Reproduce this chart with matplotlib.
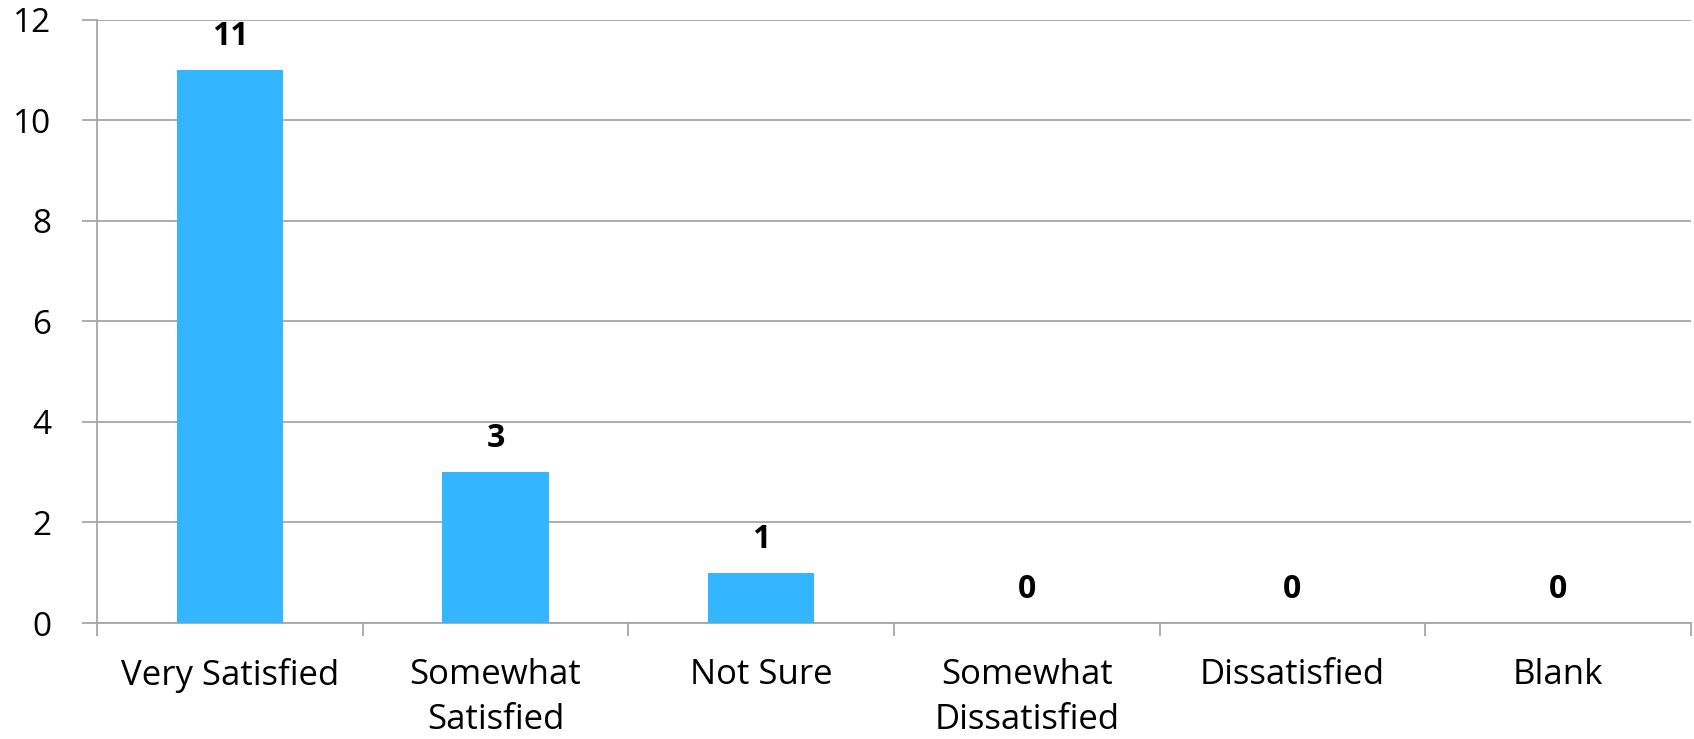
import matplotlib
matplotlib.use("Agg")
import matplotlib.pyplot as plt
import numpy as np

categories = ["Very Satisfied", "Somewhat\nSatisfied", "Not Sure",
              "Somewhat\nDissatisfied", "Dissatisfied", "Blank"]
values = [11, 3, 1, 0, 0, 0]
yticks = [0, 2, 4, 6, 8, 10, 12]

plt.rcParams['font.family'] = ['Open Sans', 'DejaVu Sans']

fig = plt.figure(figsize=(16.94, 7.39), dpi=100)
ax = fig.add_axes([97/1694, 1-623/739, (1691-97)/1694, (623-19.5)/739])

x = np.arange(len(categories))
ax.bar(x, values, width=0.4, color="#33B5FF", zorder=3)

ax.set_xlim(-0.5, len(categories)-0.5)
ax.set_ylim(0, 12)
ax.set_yticks(yticks)
ax.set_yticklabels([str(t) for t in yticks], fontsize=24)
ax.yaxis.grid(True, color="#A6A6A6", linewidth=1.3, zorder=0)
ax.tick_params(axis='y', length=11, width=1.3, color="#A6A6A6", pad=22)

ax.set_xticks(x)
ax.set_xticklabels(categories, fontsize=25, linespacing=1.45)
ax.set_xticks(np.arange(len(categories)+1)-0.5, minor=True)
ax.tick_params(axis='x', which='major', length=0, pad=25)
ax.tick_params(axis='x', which='minor', length=9, width=1.3, color="#A6A6A6")

for s in ['top', 'right']:
    ax.spines[s].set_visible(False)
for s in ['left', 'bottom']:
    ax.spines[s].set_color("#A6A6A6")
    ax.spines[s].set_linewidth(1.3)

for xi, v in zip(x, values):
    ax.annotate(str(v), (xi, v), xytext=(0, 18), textcoords="offset points",
                ha="center", va="baseline", fontsize=23, fontweight="bold")

fig.savefig("out.png", dpi=100, facecolor="white")
